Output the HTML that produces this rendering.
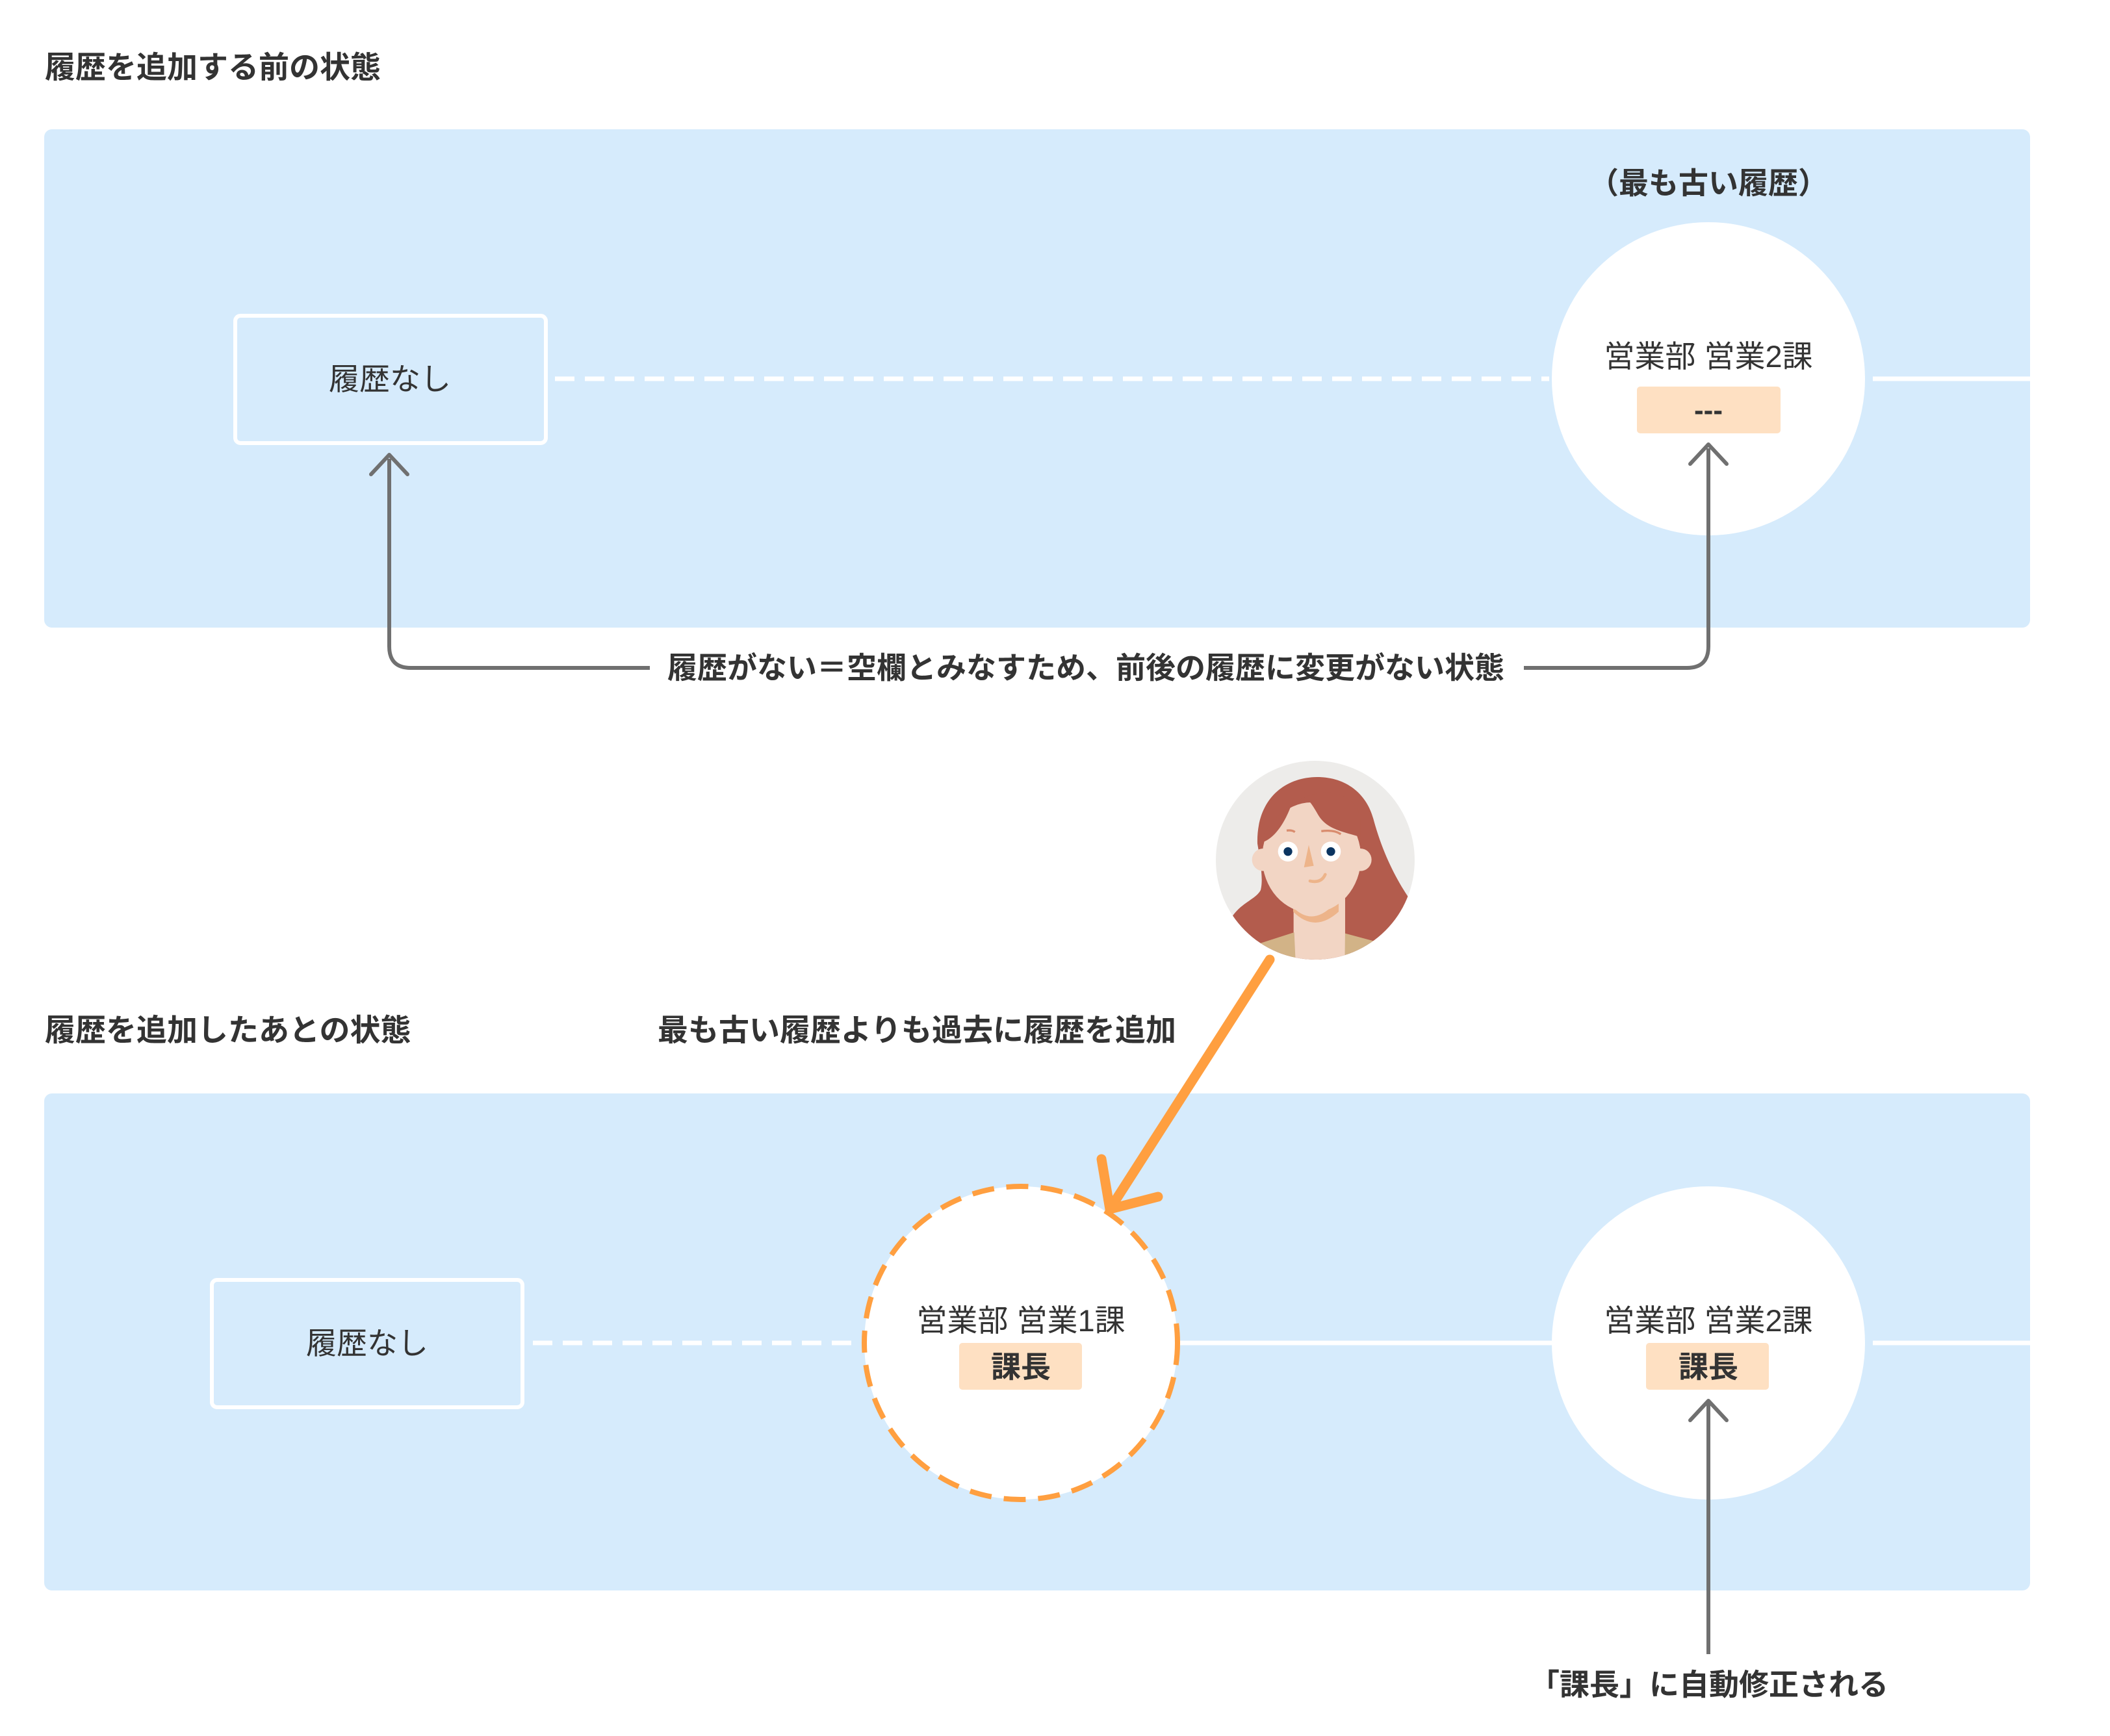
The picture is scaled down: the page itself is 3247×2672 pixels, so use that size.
<!DOCTYPE html>
<html><head><meta charset="utf-8"><style>
html,body{margin:0;padding:0;background:#fff;}
svg{display:block;}
text{font-family:"Liberation Sans","Noto Sans CJK JP",sans-serif;fill:#333;}
</style></head><body>
<svg width="3247" height="2672" viewBox="0 0 3247 2672" xmlns="http://www.w3.org/2000/svg">
<defs>
<clipPath id="av"><circle cx="672" cy="522" r="459"/></clipPath>
</defs>
<!-- Titles -->
<text x="69" y="120" font-size="47" font-weight="bold">履歴を追加する前の状態</text>
<text x="69" y="1602" font-size="47" font-weight="bold">履歴を追加したあとの状態</text>
<text x="1012" y="1602" font-size="47" font-weight="bold">最も古い履歴よりも過去に履歴を追加</text>

<!-- Panel 1 -->
<rect x="68" y="199" width="3056" height="767" rx="12" fill="#D6EBFC"/>
<line x1="854" y1="583" x2="2384" y2="583" stroke="#fff" stroke-width="7" stroke-dasharray="30 16"/>
<line x1="2882" y1="583" x2="3124" y2="583" stroke="#fff" stroke-width="7"/>
<rect x="362" y="486" width="478" height="196" rx="8" fill="none" stroke="#fff" stroke-width="6"/>
<text x="600" y="600" font-size="47" text-anchor="middle">履歴なし</text>
<text x="2629" y="298" font-size="46" text-anchor="middle" font-weight="bold">（最も古い履歴）</text>
<circle cx="2629" cy="583" r="241" fill="#fff"/>
<text x="2629" y="565" font-size="47" text-anchor="middle">営業部 営業2課</text>
<rect x="2519" y="595" width="221" height="72" rx="5" fill="#FEE0C2"/>
<text x="2629" y="646" font-size="44" text-anchor="middle" font-weight="bold">---</text>

<!-- Gray connector -->
<path d="M599 706 L599 995 Q599 1028 632 1028 L1000 1028" fill="none" stroke="#707070" stroke-width="6"/>
<path d="M2345 1028 L2596 1028 Q2629 1028 2629 995 L2629 690" fill="none" stroke="#707070" stroke-width="6"/>
<path d="M571 730 L599 700 L627 730" fill="none" stroke="#707070" stroke-width="6" stroke-linecap="round" stroke-linejoin="round"/>
<path d="M2601 714 L2629 684 L2657 714" fill="none" stroke="#707070" stroke-width="6" stroke-linecap="round" stroke-linejoin="round"/>
<text x="1671" y="1044" font-size="46" text-anchor="middle" font-weight="bold">履歴がない＝空欄とみなすため、前後の履歴に変更がない状態</text>

<!-- Avatar -->
<g transform="translate(1800,1150) scale(0.3333)">
<circle cx="672" cy="522" r="459" fill="#EDECEA"/>
<g clip-path="url(#av)">
<path d="M405,445 C400,250 520,140 680,138 C820,138 910,220 940,330 C980,480 1040,600 1100,690 L1100,1000 L290,1000 L290,780 C330,720 400,700 420,660 C430,620 425,560 405,445 Z" fill="#B35C4D"/>
<rect x="572" y="690" width="238" height="320" fill="#F2D5C4"/>
<path d="M570,740 Q670,840 780,700 L780,760 Q670,860 570,760 Z" fill="#EDB48A"/>
<circle cx="432" cy="520" r="52" fill="#F2D5C4"/>
<circle cx="880" cy="520" r="52" fill="#F2D5C4"/>
<ellipse cx="655" cy="510" rx="228" ry="255" fill="#F2D5C4"/>
<path d="M405,445 C450,440 520,400 575,230 L600,228 C640,228 660,270 690,320 C730,380 800,390 880,415 L880,330 C860,180 600,120 405,445 Z" fill="#B35C4D"/>
<path d="M420,905 L575,855 L582,1010 L420,1010 Z" fill="#D2B387"/>
<path d="M810,860 L940,895 L940,1010 L808,1010 Z" fill="#D2B387"/>
<circle cx="546" cy="482" r="46" fill="#fff"/>
<circle cx="744" cy="482" r="46" fill="#fff"/>
<circle cx="546" cy="482" r="20" fill="#0B3460"/>
<circle cx="744" cy="482" r="20" fill="#0B3460"/>
<path d="M642,452 L620,555 L665,548 Z" fill="#EDB48A"/>
<path d="M648,618 Q700,630 718,588" fill="none" stroke="#EDB48A" stroke-width="14" stroke-linecap="round"/>
<path d="M540,385 Q565,382 578,392 M700,388 Q760,380 790,402" fill="none" stroke="#D98C6E" stroke-width="10"/>
</g>
</g>

<!-- Panel 2 -->
<rect x="68" y="1683" width="3056" height="765" rx="12" fill="#D6EBFC"/>
<line x1="820" y1="2067" x2="1330" y2="2067" stroke="#fff" stroke-width="7" stroke-dasharray="30 16"/>
<line x1="1812" y1="2067" x2="2388" y2="2067" stroke="#fff" stroke-width="7"/>
<line x1="2882" y1="2067" x2="3124" y2="2067" stroke="#fff" stroke-width="7"/>
<rect x="326" y="1970" width="478" height="196" rx="8" fill="none" stroke="#fff" stroke-width="6"/>
<text x="565" y="2084" font-size="47" text-anchor="middle">履歴なし</text>

<circle cx="1571" cy="2067" r="241" fill="#fff" stroke="#FF9F40" stroke-width="8" stroke-dasharray="34 19"/>
<text x="1571" y="2049" font-size="47" text-anchor="middle">営業部 営業1課</text>
<rect x="1476" y="2067" width="189" height="72" rx="5" fill="#FEE0C2"/>
<text x="1571" y="2120" font-size="46" text-anchor="middle" font-weight="bold">課長</text>

<circle cx="2629" cy="2067" r="241" fill="#fff"/>
<text x="2629" y="2049" font-size="47" text-anchor="middle">営業部 営業2課</text>
<rect x="2533" y="2067" width="189" height="72" rx="5" fill="#FEE0C2"/>
<text x="2629" y="2120" font-size="46" text-anchor="middle" font-weight="bold">課長</text>

<!-- Orange arrow -->
<path d="M1954 1477 L1708 1861" stroke="#FF9F40" stroke-width="15" stroke-linecap="round" fill="none"/>
<path d="M1695 1784 L1708 1861 L1782 1842" stroke="#FF9F40" stroke-width="15" stroke-linecap="round" stroke-linejoin="round" fill="none"/>

<!-- Bottom gray arrow -->
<path d="M2629 2546 L2629 2160" stroke="#707070" stroke-width="6" fill="none"/>
<path d="M2601 2186 L2629 2156 L2657 2186" fill="none" stroke="#707070" stroke-width="6" stroke-linecap="round" stroke-linejoin="round"/>
<text x="2630" y="2609" font-size="46" text-anchor="middle" font-weight="bold">「課長」に自動修正される</text>
</svg>
</body></html>
